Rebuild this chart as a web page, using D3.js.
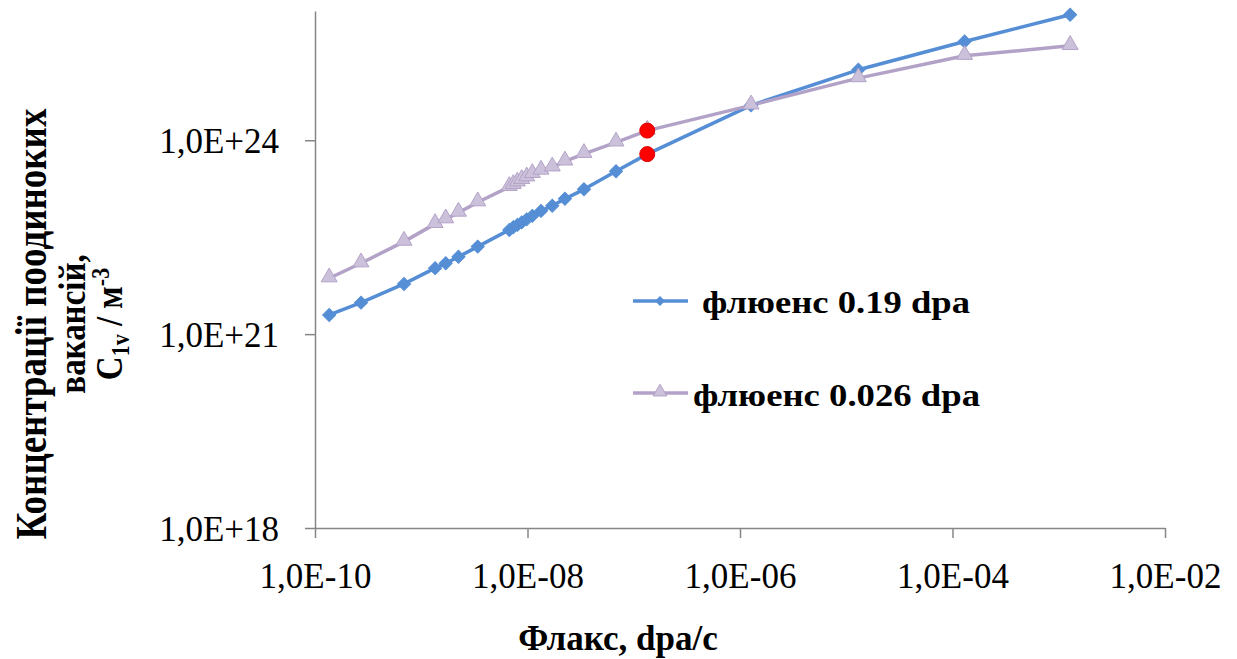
<!DOCTYPE html>
<html>
<head>
<meta charset="utf-8">
<script src="https://cdn.jsdelivr.net/npm/d3@7"></script>
<style>
  body { margin: 0; background: #fff; }
  svg { display: block; }
  text { font-family: "Liberation Serif", "Times New Roman", serif; fill: #000; }
</style>
</head>
<body>
<svg id="chart" width="1237" height="659"></svg>
<script>
// ---- data ----
const flux = [1.36e-10, 2.71e-10, 6.88e-10, 1.35e-9, 1.70e-9, 2.24e-9, 3.40e-9,
  6.74e-9, 7.35e-9, 8.02e-9, 8.82e-9, 9.83e-9, 1.11e-8, 1.34e-8, 1.71e-8, 2.25e-8,
  3.40e-8, 6.81e-8, 1.34e-7, 1.27e-6, 1.30e-5, 1.30e-4, 1.28e-3];
const series019 = [1.98e21, 3.07e21, 5.98e21, 1.05e22, 1.25e22, 1.57e22, 2.26e22,
  4.10e22, 4.49e22, 4.90e22, 5.36e22, 5.97e22, 6.76e22, 8.07e22, 9.66e22, 1.24e23,
  1.74e23, 3.32e23, 6.10e23, 3.47e24, 1.23e25, 3.37e25, 8.73e25];
const series0026 = [7.33e21, 1.25e22, 2.70e22, 5.08e22, 6.00e22, 7.60e22, 1.10e23,
  1.90e23, 2.04e23, 2.23e23, 2.44e23, 2.67e23, 3.02e23, 3.40e23, 3.81e23, 4.71e23,
  6.16e23, 9.27e23, 1.41e24, 3.47e24, 9.15e24, 2.03e25, 2.89e25];
const highlightIndex = [18];
const seriesNames = ["флюенс 0.19 dpa", "флюенс 0.026 dpa"];
const xTicks = [1e-10, 1e-8, 1e-6, 1e-4, 1e-2];
const yTicks = [1e18, 1e21, 1e24];
const xDomain = [1e-10, 1e-2];
const yDomain = [1e18, 1e26];

// ---- layout ----
const svg = d3.select("#chart");
const pLeft = 315, pRight = 1165, pTop = 11, pBottom = 528;
const x = d3.scaleLog().domain(xDomain).range([pLeft, pRight]);
const y = d3.scaleLog().domain(yDomain).range([pBottom, pTop]);
const axisColor = "#868686";
const colors = ["#558ed5", "#b3a2c7"];

function sci(v) {
  const e = Math.round(Math.log10(v));
  const s = e < 0 ? "-" : "+";
  return "1,0E" + s + String(Math.abs(e)).padStart(2, "0");
}

// axes
const gx = svg.append("g").attr("transform", `translate(0,${pBottom})`)
  .call(d3.axisBottom(x).tickValues(xTicks).tickFormat(sci).tickSize(10).tickSizeOuter(0));
const gy = svg.append("g").attr("transform", `translate(${pLeft},0)`)
  .call(d3.axisLeft(y).tickValues(yTicks).tickFormat(sci).tickSize(10).tickSizeOuter(0));
[gx, gy].forEach(g => {
  g.select(".domain").attr("stroke", axisColor).attr("stroke-width", 1.5);
  g.selectAll(".tick line").attr("stroke", axisColor).attr("stroke-width", 1.5);
  g.selectAll(".tick text").attr("font-family", "Liberation Serif").attr("font-size", 35).attr("fill", "#000");
});
gx.selectAll(".tick text").attr("dy", null).attr("y", 60);
gy.selectAll(".tick text").attr("x", -36).attr("dy", "0.35em");

// lines
const line = d3.line().x((d, i) => x(flux[i])).y(d => y(d));
const data = [series019, series0026];
data.forEach((s, k) => {
  svg.append("path").datum(s).attr("d", line)
    .attr("fill", "none").attr("stroke", colors[k]).attr("stroke-width", 3.5)
    .attr("stroke-linejoin", "round");
});

// markers blue
svg.append("g").selectAll("path").data(series019).join("path")
  .attr("d", d3.symbol().type(d3.symbolSquare).size(85))
  .attr("transform", (d, i) => `translate(${x(flux[i])},${y(d)}) rotate(45)`)
  .attr("fill", colors[0]).attr("stroke", colors[0]).attr("stroke-width", 1);
// markers purple
svg.append("g").selectAll("path").data(series0026).join("path")
  .attr("d", d3.symbol().type(d3.symbolTriangle).size(110))
  .attr("transform", (d, i) => `translate(${x(flux[i])},${y(d) - 1})`)
  .attr("fill", "#ccc1da").attr("stroke", "#b3a2c7").attr("stroke-width", 1);

// highlighted points
highlightIndex.forEach(i => {
  [series019, series0026].forEach(s => {
    svg.append("circle").attr("cx", x(flux[i])).attr("cy", y(s[i])).attr("r", 7.5)
      .attr("fill", "#ff0000").attr("stroke", "#e00000").attr("stroke-width", 1);
  });
});

// legend
const lg = [
  { y: 301, tx: 702, ty: 313, w: 268 },
  { y: 393, tx: 693, ty: 406, w: 287 }
];
lg.forEach((l, k) => {
  svg.append("line").attr("x1", 633).attr("x2", 688).attr("y1", l.y).attr("y2", l.y)
    .attr("stroke", colors[k]).attr("stroke-width", 3.5);
  if (k === 0) {
    svg.append("path").attr("d", d3.symbol().type(d3.symbolSquare).size(50))
      .attr("transform", `translate(660,${l.y}) rotate(45)`).attr("fill", colors[0]);
  } else {
    svg.append("path").attr("d", d3.symbol().type(d3.symbolTriangle).size(80))
      .attr("transform", `translate(660,${l.y - 1})`).attr("fill", "#ccc1da").attr("stroke", "#b3a2c7");
  }
  svg.append("text").attr("x", l.tx).attr("y", l.ty)
    .attr("font-size", 31).attr("font-weight", "bold")
    .attr("textLength", l.w).attr("lengthAdjust", "spacingAndGlyphs")
    .text(seriesNames[k]);
});

// x title
svg.append("text").attr("x", 618).attr("y", 650).attr("text-anchor", "middle")
  .attr("font-size", 35).attr("font-weight", "bold").text("Флакс, dpa/c");

// y title (glyphs slightly taller than wide, as in the reference)
const yt = svg.append("g").attr("transform", "translate(0,324) rotate(-90) scale(1,1.18)");
yt.append("text").attr("x", 0).attr("y", 39).attr("text-anchor", "middle")
  .attr("font-size", 37).attr("font-weight", "bold").text("Концентрації поодиноких");
yt.append("text").attr("x", 0).attr("y", 72).attr("text-anchor", "middle")
  .attr("font-size", 33).attr("font-weight", "bold").text("вакансій,");
const t3 = yt.append("text").attr("x", 0).attr("y", 103).attr("text-anchor", "middle")
  .attr("font-size", 33).attr("font-weight", "bold");
t3.append("tspan").text("C");
t3.append("tspan").attr("font-size", 22).attr("dy", 6).text("1v");
t3.append("tspan").attr("dy", -6).text(" / м");
t3.append("tspan").attr("font-size", 22).attr("dy", -11).text("-3");
</script>
</body>
</html>
